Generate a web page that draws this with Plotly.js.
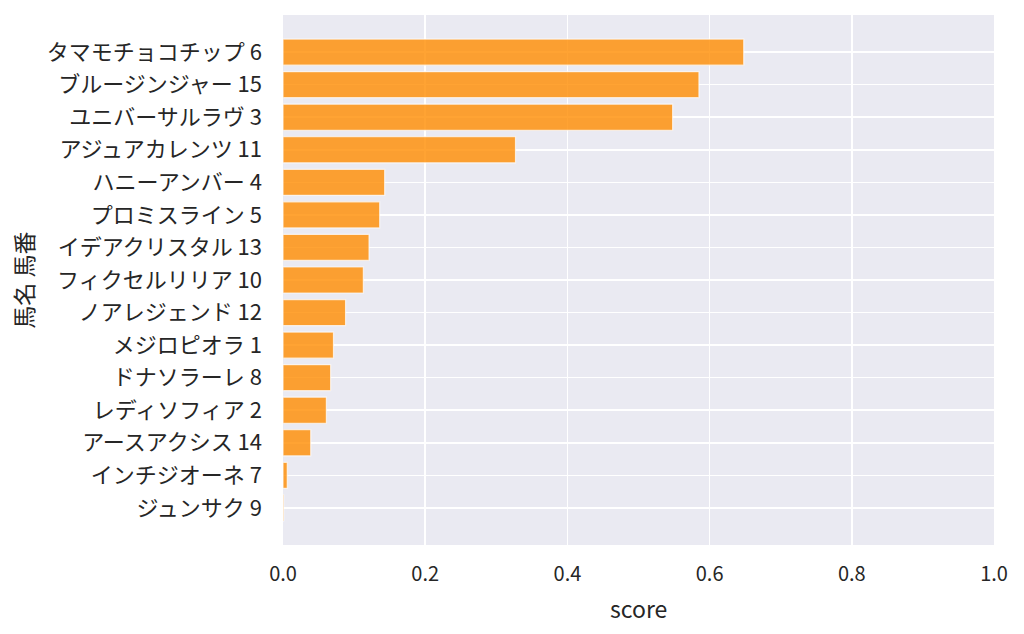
<!DOCTYPE html>
<html>
<head>
<meta charset="utf-8">
<script src="https://cdn.plot.ly/plotly-3.0.1.min.js"></script>
<style>
  html, body { margin: 0; padding: 0; background: #fff; }
  #chart { width: 1024px; height: 634px; }
</style>
</head>
<body>
<div id="chart"></div>
<script>
const horses = [
  "タマモチョコチップ 6", "ブルージンジャー 15", "ユニバーサルラヴ 3", "アジュアカレンツ 11",
  "ハニーアンバー 4", "プロミスライン 5", "イデアクリスタル 13", "フィクセルリリア 10",
  "ノアレジェンド 12", "メジロピオラ 1", "ドナソラーレ 8", "レディソフィア 2",
  "アースアクシス 14", "インチジオーネ 7", "ジュンサク 9",
];
const scores = [
  0.648, 0.585, 0.548, 0.327,
  0.143, 0.136, 0.121, 0.113,
  0.088, 0.071, 0.067, 0.061,
  0.039, 0.006, 0.001,
];
const xTicks = [0, 0.2, 0.4, 0.6, 0.8, 1.0];
const xTitle = "score";
const yTitle = "馬名 馬番";

const FONT = "'Noto Sans CJK JP', 'Noto Sans', sans-serif";
const INK = "#262626";

Plotly.newPlot(
  "chart",
  [
    {
      type: "bar",
      orientation: "h",
      x: scores,
      y: horses,
      width: 0.8,
      marker: {
        color: "rgba(255,140,0,0.8)",
        line: { color: "rgba(255,255,255,0.7)", width: 1.2 },
      },
      hoverinfo: "x+y",
    },
  ],
  {
    width: 1024,
    height: 634,
    margin: { l: 283, r: 30, t: 15, b: 89, pad: 0 },
    paper_bgcolor: "#ffffff",
    plot_bgcolor: "#eaeaf2",
    font: { family: FONT, color: INK, size: 20 },
    showlegend: false,
    xaxis: {
      range: [0, 1],
      tickvals: xTicks,
      tickformat: ".1f",
      tickfont: { size: 20 },
      showgrid: true,
      gridcolor: "#ffffff",
      gridwidth: 1.6,
      zeroline: false,
      showline: false,
      ticks: "",
      ticklabelstandoff: 15,
      automargin: false,
    },
    yaxis: {
      type: "category",
      range: [15.14, -1.14],
      tickfont: { size: 22 },
      showgrid: true,
      gridcolor: "#ffffff",
      gridwidth: 1.6,
      zeroline: false,
      showline: false,
      ticks: "",
      ticklabelstandoff: 20,
      automargin: false,
    },
    annotations: [
      {
        text: xTitle,
        xref: "paper", yref: "paper",
        x: 0.5, y: -0.1183,
        xanchor: "center", yanchor: "middle",
        showarrow: false,
        font: { size: 23, family: FONT, color: INK },
      },
      {
        text: yTitle,
        xref: "paper", yref: "paper",
        x: -0.366, y: 0.5,
        xanchor: "center", yanchor: "middle",
        textangle: -90,
        showarrow: false,
        font: { size: 23, family: FONT, color: INK },
      },
    ],
  },
  { displayModeBar: false, staticPlot: true }
);
</script>
</body>
</html>
